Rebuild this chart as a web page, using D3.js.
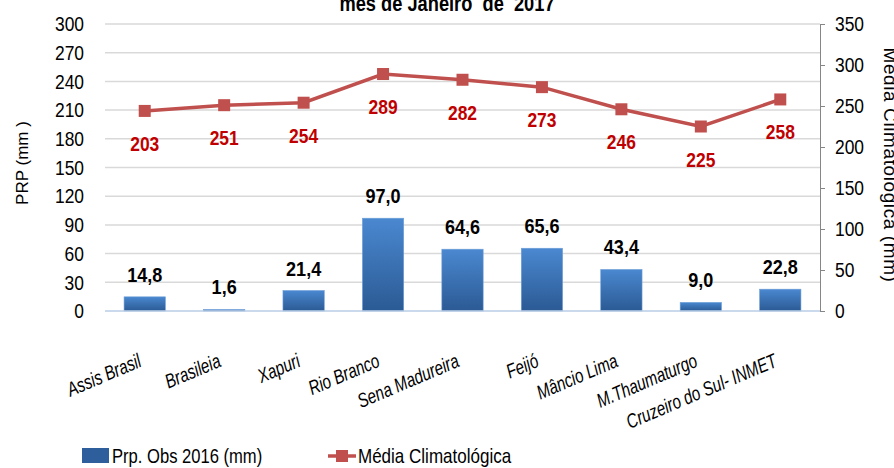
<!DOCTYPE html>
<html>
<head>
<meta charset="utf-8">
<script src="https://cdn.jsdelivr.net/npm/d3@7"></script>
<style>
  body { margin: 0; background: #fff; }
  svg { display: block; }
  text { font-family: "Liberation Sans", Arial, sans-serif; }
</style>
</head>
<body>
<svg width="894" height="468"></svg>
<script>
const categories = ["Assis Brasil", "Brasileia", "Xapuri", "Rio Branco", "Sena Madureira",
    "Feijó", "Mâncio Lima", "M.Thaumaturgo", "Cruzeiro do Sul- INMET"];
const obsValues = [14.8, 1.6, 21.4, 97.0, 64.6, 65.6, 43.4, 9.0, 22.8];
const mediaValues = [244, 251, 254, 289, 282, 273, 246, 225, 258];
const mediaLabels = ["203", "251", "254", "289", "282", "273", "246", "225", "258"];
const leftTicks = [0, 30, 60, 90, 120, 150, 180, 210, 240, 270, 300];
const rightTicks = [0, 50, 100, 150, 200, 250, 300, 350];

const svg = d3.select('svg');
const plotLeft = 105, plotRight = 820, plotTop = 24, plotBottom = 311;
const K = 0.83; // horizontal squeeze for the narrow chart font

const x = d3.scaleBand().domain(categories).range([plotLeft, plotRight])
    .paddingInner(0.48).paddingOuter(0.24);
const yL = d3.scaleLinear().domain([0, 300]).range([plotBottom, plotTop]);
const yR = d3.scaleLinear().domain([0, 350]).range([plotBottom, plotTop]);
const cx = i => x(categories[i]) + x.bandwidth() / 2;

const defs = svg.append('defs');
const grad = defs.append('linearGradient').attr('id', 'barGrad')
    .attr('x1', 0).attr('y1', 0).attr('x2', 0).attr('y2', 1);
grad.append('stop').attr('offset', '0%').attr('stop-color', '#4a88d0');
grad.append('stop').attr('offset', '100%').attr('stop-color', '#2b5a94');

function narrowText(g, px, py, str) {
    return g.append('text')
        .attr('transform', `translate(${px},${py}) scale(${K},1)`)
        .text(str);
}

// title (partly cut off at the top)
narrowText(svg, 447, 11, 'mes de Janeiro  de  2017')
    .attr('text-anchor', 'middle')
    .style('font-weight', 'bold').style('font-size', '22px').style('white-space', 'pre');

// grid
svg.append('g').selectAll('line')
    .data(leftTicks.filter(d => d > 0))
    .enter().append('line')
    .attr('x1', plotLeft).attr('x2', plotRight)
    .attr('y1', d => yL(d)).attr('y2', d => yL(d))
    .attr('stroke', '#d9d9d9').attr('stroke-width', 1.5);

// left axis
const axL = svg.append('g')
    .attr('transform', `translate(${plotLeft - 21},0)`)
    .call(d3.axisLeft(yL).tickValues(leftTicks).tickSize(0).tickPadding(0));
axL.select('.domain').remove();
axL.selectAll('text')
    .attr('x', 0).attr('transform', `scale(${K},1)`)
    .style('font-family', '"Liberation Sans", sans-serif').style('font-size', '21px').attr('fill', '#000');

// right axis
const axR = svg.append('g')
    .attr('transform', `translate(${plotRight},0)`)
    .call(d3.axisRight(yR).tickValues(rightTicks).tickSize(5).tickPadding(0));
axR.select('.domain').attr('stroke', '#868686');
axR.selectAll('line').attr('stroke', '#868686');
axR.selectAll('text')
    .attr('x', 0).attr('transform', `translate(15,0) scale(${K},1)`)
    .style('font-family', '"Liberation Sans", sans-serif').style('font-size', '21px').attr('fill', '#000');

// axis titles
svg.append('text')
    .attr('transform', 'translate(28,163) rotate(-90)')
    .attr('text-anchor', 'middle')
    .style('font-size', '17px')
    .text('PRP (mm )');
svg.append('text')
    .attr('transform', 'translate(884,165) rotate(90)')
    .attr('text-anchor', 'middle')
    .style('font-size', '19px').style('letter-spacing', '0.6px')
    .text('Média Climatológica (mm)');

// bars
svg.append('g').selectAll('rect')
    .data(obsValues)
    .enter().append('rect')
    .attr('x', (d, i) => x(categories[i]))
    .attr('y', d => yL(d))
    .attr('width', x.bandwidth())
    .attr('height', d => yL(0) - yL(d))
    .attr('fill', 'url(#barGrad)')
    .attr('stroke', '#6f9fd8').attr('stroke-width', 0.6);

// baseline
svg.append('line')
    .attr('x1', plotLeft).attr('x2', plotRight)
    .attr('y1', yL(0)).attr('y2', yL(0))
    .attr('stroke', '#b9cde5').attr('stroke-width', 1.5);

svg.append('g').selectAll('text')
    .data(obsValues)
    .enter().append('text')
    .attr('transform', (d, i) => `translate(${cx(i)},${yL(d) - 15}) scale(0.86,1)`)
    .attr('text-anchor', 'middle')
    .style('font-weight', 'bold').style('font-size', '21px')
    .text(d => d.toFixed(1).replace('.', ','));

// line series
const line = d3.line().x((d, i) => cx(i)).y(d => yR(d));
svg.append('path')
    .datum(mediaValues)
    .attr('d', line)
    .attr('fill', 'none')
    .attr('stroke', '#c0504d').attr('stroke-width', 3.5);

svg.append('g').selectAll('rect')
    .data(mediaValues)
    .enter().append('rect')
    .attr('x', (d, i) => cx(i) - 6)
    .attr('y', d => yR(d) - 6)
    .attr('width', 12).attr('height', 12)
    .attr('fill', '#c0504d');

svg.append('g').selectAll('text')
    .data(mediaValues)
    .enter().append('text')
    .attr('transform', (d, i) => `translate(${cx(i)},${yR(d) + 40}) scale(${K},1)`)
    .attr('text-anchor', 'middle')
    .attr('fill', '#c00000')
    .style('font-weight', 'bold').style('font-size', '21px')
    .text((d, i) => mediaLabels[i]);

// category labels
svg.append('g').selectAll('text')
    .data(categories)
    .enter().append('text')
    .attr('transform', d => `translate(${x(d) + x.bandwidth() / 2 - 2},366) rotate(-23) scale(0.76,1)`)
    .attr('text-anchor', 'end')
    .style('font-style', 'italic').style('font-size', '20px')
    .text(d => d);

// legend
const lg = svg.append('g');
lg.append('rect').attr('x', 82).attr('y', 448).attr('width', 27).attr('height', 15).attr('fill', '#2e5e9b');
narrowText(lg, 112, 463, 'Prp. Obs 2016 (mm)').style('font-size', '20px');
lg.append('line').attr('x1', 328).attr('x2', 356).attr('y1', 456).attr('y2', 456)
    .attr('stroke', '#c0504d').attr('stroke-width', 3.5);
lg.append('rect').attr('x', 336).attr('y', 450).attr('width', 12).attr('height', 12).attr('fill', '#c0504d');
narrowText(lg, 358, 463, 'Média Climatológica').style('font-size', '20.5px');
</script>
</body>
</html>
